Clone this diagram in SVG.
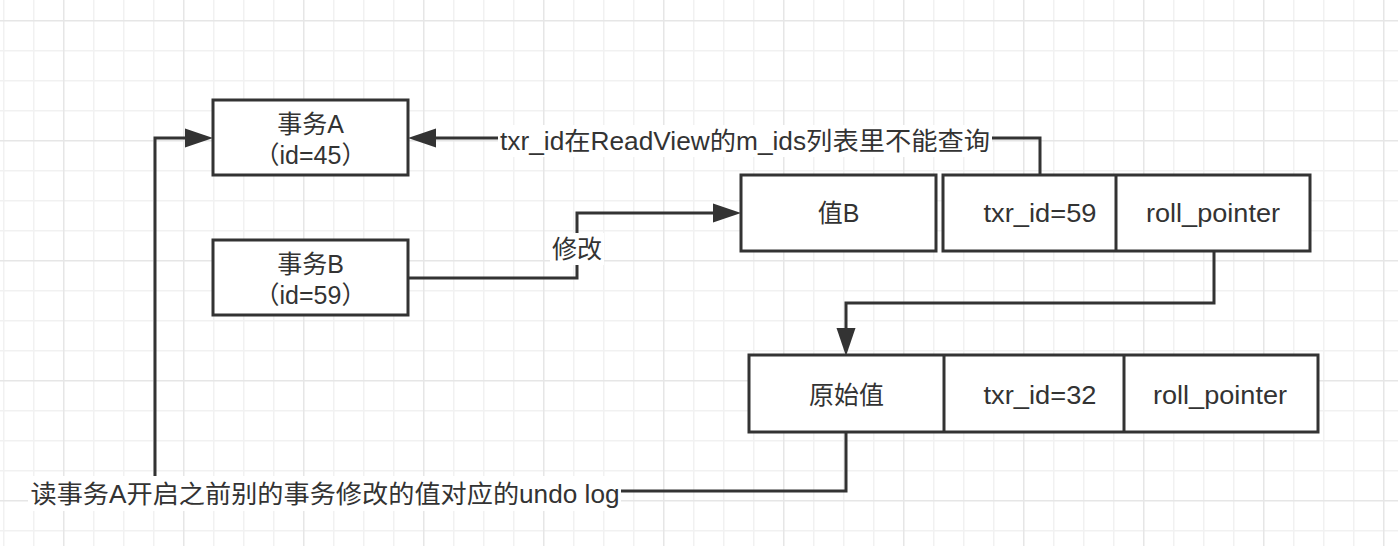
<svg xmlns="http://www.w3.org/2000/svg" width="1398" height="546" viewBox="0 0 1398 546">
  <defs>
    <pattern id="grid" patternUnits="userSpaceOnUse" x="63" y="20" width="120" height="120">
      <rect width="120" height="120" fill="#ffffff"/>
      <g fill="#f1f1f1">
        <rect x="30" y="0" width="1.5" height="120"/>
        <rect x="60" y="0" width="1.5" height="120"/>
        <rect x="90" y="0" width="1.5" height="120"/>
        <rect x="0" y="30" width="120" height="1.5"/>
        <rect x="0" y="60" width="120" height="1.5"/>
        <rect x="0" y="90" width="120" height="1.5"/>
      </g>
      <g fill="#e6e6e6">
        <rect x="0" y="0" width="1.5" height="120"/>
        <rect x="0" y="0" width="120" height="1.5"/>
      </g>
    </pattern>
    <marker id="arrow" markerUnits="userSpaceOnUse" markerWidth="28" markerHeight="20" refX="0" refY="10" orient="auto" viewBox="0 0 28 20">
      <path d="M0,0.5 L28,10 L0,19.5 z" fill="#333333"/>
    </marker>
  </defs>
  <style>
    .box { fill: #ffffff; stroke: #333333; stroke-width: 3; }
    .div { stroke: #333333; stroke-width: 3; }
    .t { font-family: "Liberation Sans", "Noto Sans CJK SC", sans-serif; font-size: 25px; fill: #333333; text-anchor: middle; }
    .conn { fill: none; stroke: #333333; stroke-width: 3; }
    .lbg { fill: #ffffff; }
  </style>
  <rect x="0" y="0" width="1398" height="546" fill="url(#grid)"/>

  <g id="connectors">
    <path class="conn" d="M1040,175 V138 H436" marker-end="url(#arrow)"/>
    <path class="conn" d="M408,278 H577 V213 H713" marker-end="url(#arrow)"/>
    <path class="conn" d="M1214,251 V303 H846 V328" marker-end="url(#arrow)"/>
    <path class="conn" d="M846,432 V491 H155 V138 H185" marker-end="url(#arrow)"/>
    <rect class="lbg" x="498" y="125" width="494" height="32"/>
    <text class="t" x="745" y="150" textLength="490" lengthAdjust="spacingAndGlyphs">txr_id在ReadView的m_ids列表里不能查询</text>
    <rect class="lbg" x="550" y="233" width="54" height="32"/>
    <text class="t" x="577" y="258">修改</text>
    <rect class="lbg" x="28" y="476" width="593" height="35"/>
    <text class="t" x="325" y="503" textLength="589" lengthAdjust="spacingAndGlyphs">读事务A开启之前别的事务修改的值对应的undo log</text>
  </g>

  <g id="txA">
    <rect class="box" x="213" y="100" width="195" height="75"/>
    <text class="t" x="310.5" y="133">事务A</text>
    <text class="t" x="310.5" y="164">（id=45）</text>
  </g>

  <g id="txB">
    <rect class="box" x="213" y="240" width="195" height="75"/>
    <text class="t" x="310.5" y="273">事务B</text>
    <text class="t" x="310.5" y="304">（id=59）</text>
  </g>

  <g id="valB">
    <rect class="box" x="741" y="175" width="195" height="76"/>
    <text class="t" x="838.5" y="222">值B</text>
  </g>

  <g id="valB-meta">
    <rect class="box" x="943" y="175" width="367" height="76"/>
    <line class="div" x1="1116" y1="175" x2="1116" y2="251"/>
    <text class="t" x="1040" y="222" textLength="113" lengthAdjust="spacingAndGlyphs">txr_id=59</text>
    <text class="t" x="1213" y="222" textLength="134" lengthAdjust="spacingAndGlyphs">roll_pointer</text>
  </g>

  <g id="original">
    <rect class="box" x="749" y="355" width="569" height="77"/>
    <line class="div" x1="944" y1="355" x2="944" y2="432"/>
    <line class="div" x1="1124" y1="355" x2="1124" y2="432"/>
    <text class="t" x="846.5" y="404">原始值</text>
    <text class="t" x="1040" y="404" textLength="113" lengthAdjust="spacingAndGlyphs">txr_id=32</text>
    <text class="t" x="1220" y="404" textLength="134" lengthAdjust="spacingAndGlyphs">roll_pointer</text>
  </g>
</svg>
